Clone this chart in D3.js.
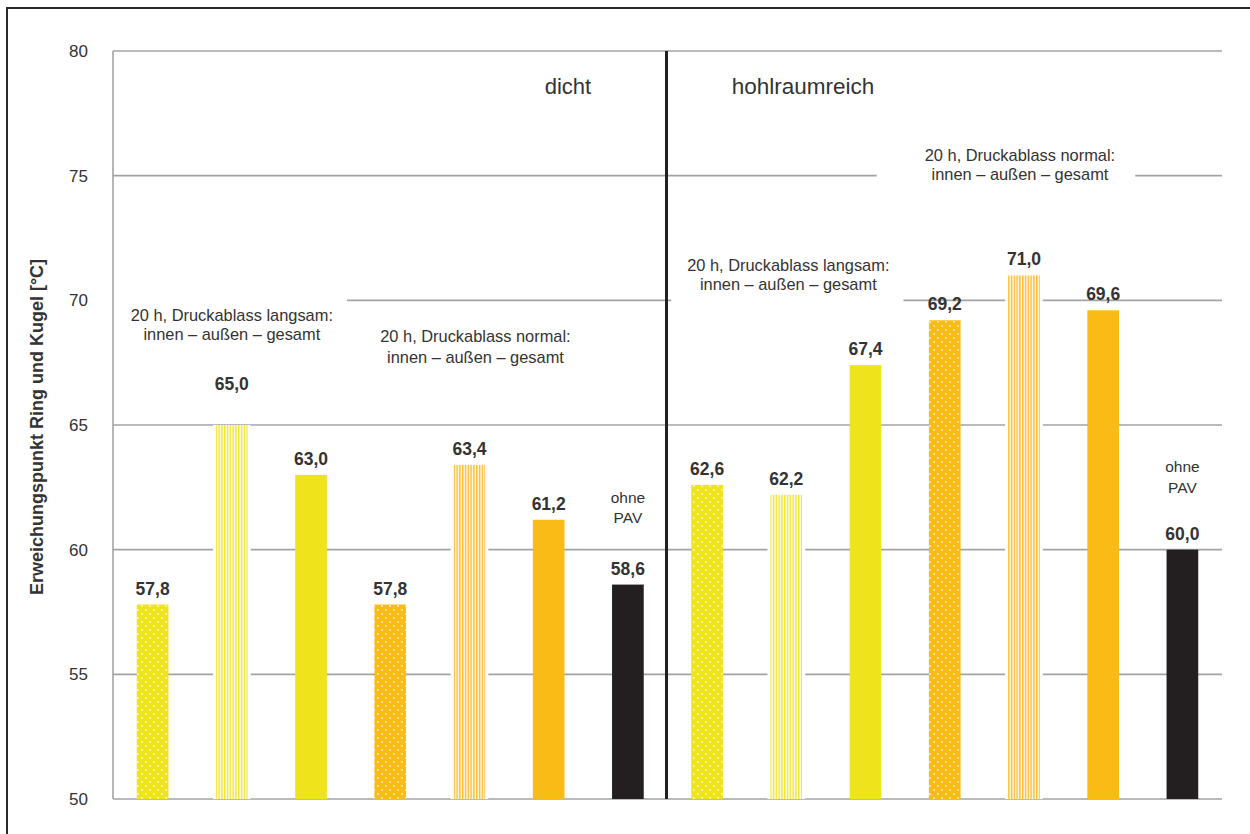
<!DOCTYPE html>
<html><head><meta charset="utf-8">
<script src="https://cdn.jsdelivr.net/npm/d3@7"></script>
<style>
html,body{margin:0;padding:0;background:#fff;}
svg{display:block;font-family:"Liberation Sans",Arial,Helvetica,sans-serif;}
</style></head>
<body><svg id="chart" width="1250" height="834"></svg>
<script>
// ---- data ----
const groups = ["dicht", "hohlraumreich"];
const conditions = ["langsam innen", "langsam außen", "langsam gesamt",
                    "normal innen", "normal außen", "normal gesamt", "ohne PAV"];
const valuesDicht = [57.8, 65.0, 63.0, 57.8, 63.4, 61.2, 58.6];
const valuesHohlraumreich = [62.6, 62.2, 67.4, 69.2, 71.0, 69.6, 60.0];
const yTicks = [50, 55, 60, 65, 70, 75, 80];
const yTitle = "Erweichungspunkt Ring und Kugel [°C]";
const groupNoteLangsam = ["20 h, Druckablass langsam:", "innen – außen – gesamt"];
const groupNoteNormal = ["20 h, Druckablass normal:", "innen – außen – gesamt"];
const ohneLabel = ["ohne", "PAV"];

// ---- styling maps ----
const fillKind = ["dotY", "stripeY", "solidY", "dotO", "stripeO", "solidO", "black"];
const YEL = "#efe41b", ORA = "#fbbb16", BLK = "#231f20";

const rows = [];
groups.forEach((g, gi) => {
  const vals = gi === 0 ? valuesDicht : valuesHohlraumreich;
  conditions.forEach((c, ci) => rows.push({group: g, gi, cond: c, ci, value: vals[ci], key: g + "|" + c}));
});

const svg = d3.select("#chart");
const pLeft = 113, pRight = 1222, pTop = 51, pBottom = 799;

const x = d3.scaleBand().domain(rows.map(d => d.key)).range([pLeft, pRight]).paddingInner(0.6).paddingOuter(0.3);
const y = d3.scaleLinear().domain([50, 80]).range([pBottom, pTop]);

// patterns
const defs = svg.append("defs");
function dotPattern(id, color) {
  const p = defs.append("pattern").attr("id", id).attr("patternUnits", "userSpaceOnUse")
    .attr("width", 8).attr("height", 8);
  p.append("rect").attr("width", 8).attr("height", 8).attr("fill", color);
  p.append("circle").attr("cx", 2).attr("cy", 2).attr("r", 0.9).attr("fill", "#fff").attr("opacity", 0.8);
  p.append("circle").attr("cx", 6).attr("cy", 6).attr("r", 0.9).attr("fill", "#fff").attr("opacity", 0.8);
}
function stripePattern(id, color) {
  const p = defs.append("pattern").attr("id", id).attr("patternUnits", "userSpaceOnUse")
    .attr("width", 2.8).attr("height", 10);
  p.append("rect").attr("width", 2.8).attr("height", 10).attr("fill", "#fff");
  p.append("rect").attr("width", 1.5).attr("height", 10).attr("fill", color);
}
dotPattern("dotY", YEL); dotPattern("dotO", ORA);
stripePattern("stripeY", "#f1e530"); stripePattern("stripeO", "#fbbd2a");
const fillOf = k => ({dotY: "url(#dotY)", dotO: "url(#dotO)", stripeY: "url(#stripeY)", stripeO: "url(#stripeO)",
  solidY: YEL, solidO: ORA, black: BLK})[k];

// frame
svg.append("rect").attr("x", 7).attr("y", 8).attr("width", 1300).attr("height", 900)
  .attr("fill", "none").attr("stroke", "#2a2a2a").attr("stroke-width", 2);

// gridlines
const grid = svg.append("g");
grid.selectAll("line").data(yTicks).join("line")
  .attr("x1", pLeft).attr("x2", pRight).attr("y1", d => y(d)).attr("y2", d => y(d))
  .attr("stroke", "#a3a3a6").attr("stroke-width", 1.6);

// tick labels
svg.append("g").selectAll("text").data(yTicks).join("text")
  .attr("x", 88).attr("y", d => y(d)).attr("dy", "0.35em").attr("text-anchor", "end")
  .attr("font-size", 17).attr("fill", "#333").text(d => d);

// y title
svg.append("text").attr("transform", `translate(43,${(pTop + pBottom) / 2 + 2}) rotate(-90)`)
  .attr("text-anchor", "middle").attr("font-size", 18).attr("font-weight", "bold").attr("fill", "#333")
  .text(yTitle);

// annotation helper with white mask; pad = [left, right, vertical]
function note(lines, cx, y0, lh, size, pad) {
  const g = svg.append("g");
  const t = g.append("text").attr("text-anchor", "middle").attr("font-size", size).attr("fill", "#333");
  lines.forEach((s, i) => t.append("tspan").attr("x", cx).attr("y", y0 + i * lh).text(s));
  if (pad) {
    const b = t.node().getBBox();
    g.insert("rect", "text").attr("x", b.x - pad[0]).attr("y", b.y - pad[2])
      .attr("width", b.width + pad[0] + pad[1]).attr("height", b.height + 2 * pad[2]).attr("fill", "#fff");
  }
  return g;
}
const bandMid = (gi, ci) => x(groups[gi] + "|" + conditions[ci]) + x.bandwidth() / 2;

note(groupNoteLangsam, bandMid(0, 1), 321, 19, 16.4, [18, 14, 12]);
note(groupNoteNormal, bandMid(0, 4) + 6, 342, 21, 16.4);
note(groupNoteLangsam, bandMid(1, 1) + 2, 271, 19, 16.4, [16, 14, 12]);
note(groupNoteNormal, bandMid(1, 4) - 4, 161, 19, 16.4, [48, 20, 4]);

// axis line (drawn after masks)
svg.append("line").attr("x1", pLeft).attr("x2", pLeft).attr("y1", pTop).attr("y2", pBottom)
  .attr("stroke", "#a3a3a6").attr("stroke-width", 1.6);

// bars
const bars = svg.append("g");
bars.selectAll("rect.bg").data(rows.filter(d => fillKind[d.ci].startsWith("stripe"))).join("rect")
  .attr("class", "bg").attr("x", d => x(d.key) - 3).attr("width", x.bandwidth() + 6)
  .attr("y", d => y(d.value)).attr("height", d => y(50) - y(d.value)).attr("fill", "#fff");
bars.selectAll("rect.bar").data(rows).join("rect")
  .attr("class", "bar").attr("x", d => x(d.key)).attr("width", x.bandwidth())
  .attr("y", d => y(d.value)).attr("height", d => y(50) - y(d.value))
  .attr("fill", d => fillOf(fillKind[d.ci]));

// value labels
const fmt = v => v.toFixed(1).replace(".", ",");
svg.append("g").selectAll("text").data(rows).join("text")
  .attr("x", d => x(d.key) + x.bandwidth() / 2)
  .attr("y", d => y(d.value) - 10 - (d.gi === 0 && d.ci === 1 ? 25 : 0))
  .attr("text-anchor", "middle").attr("font-size", 17.5).attr("font-weight", "bold").attr("fill", "#333")
  .text(d => fmt(d.value));

// ohne PAV
note(ohneLabel, bandMid(0, 6), 503, 20, 15.5);
note(ohneLabel, bandMid(1, 6), 472, 21, 15.5);

// divider
const divX = (x(groups[0] + "|" + conditions[6]) + x.bandwidth() + x(groups[1] + "|" + conditions[0])) / 2 - 1;
svg.append("line").attr("x1", divX).attr("x2", divX).attr("y1", pTop).attr("y2", pBottom)
  .attr("stroke", "#231f20").attr("stroke-width", 3);

// group titles
svg.append("text").attr("x", 568).attr("y", 94).attr("text-anchor", "middle").attr("font-size", 22)
  .attr("fill", "#333").text(groups[0]);
svg.append("text").attr("x", 803).attr("y", 94).attr("text-anchor", "middle").attr("font-size", 22.5)
  .attr("fill", "#333").text(groups[1]);
</script></body></html>
